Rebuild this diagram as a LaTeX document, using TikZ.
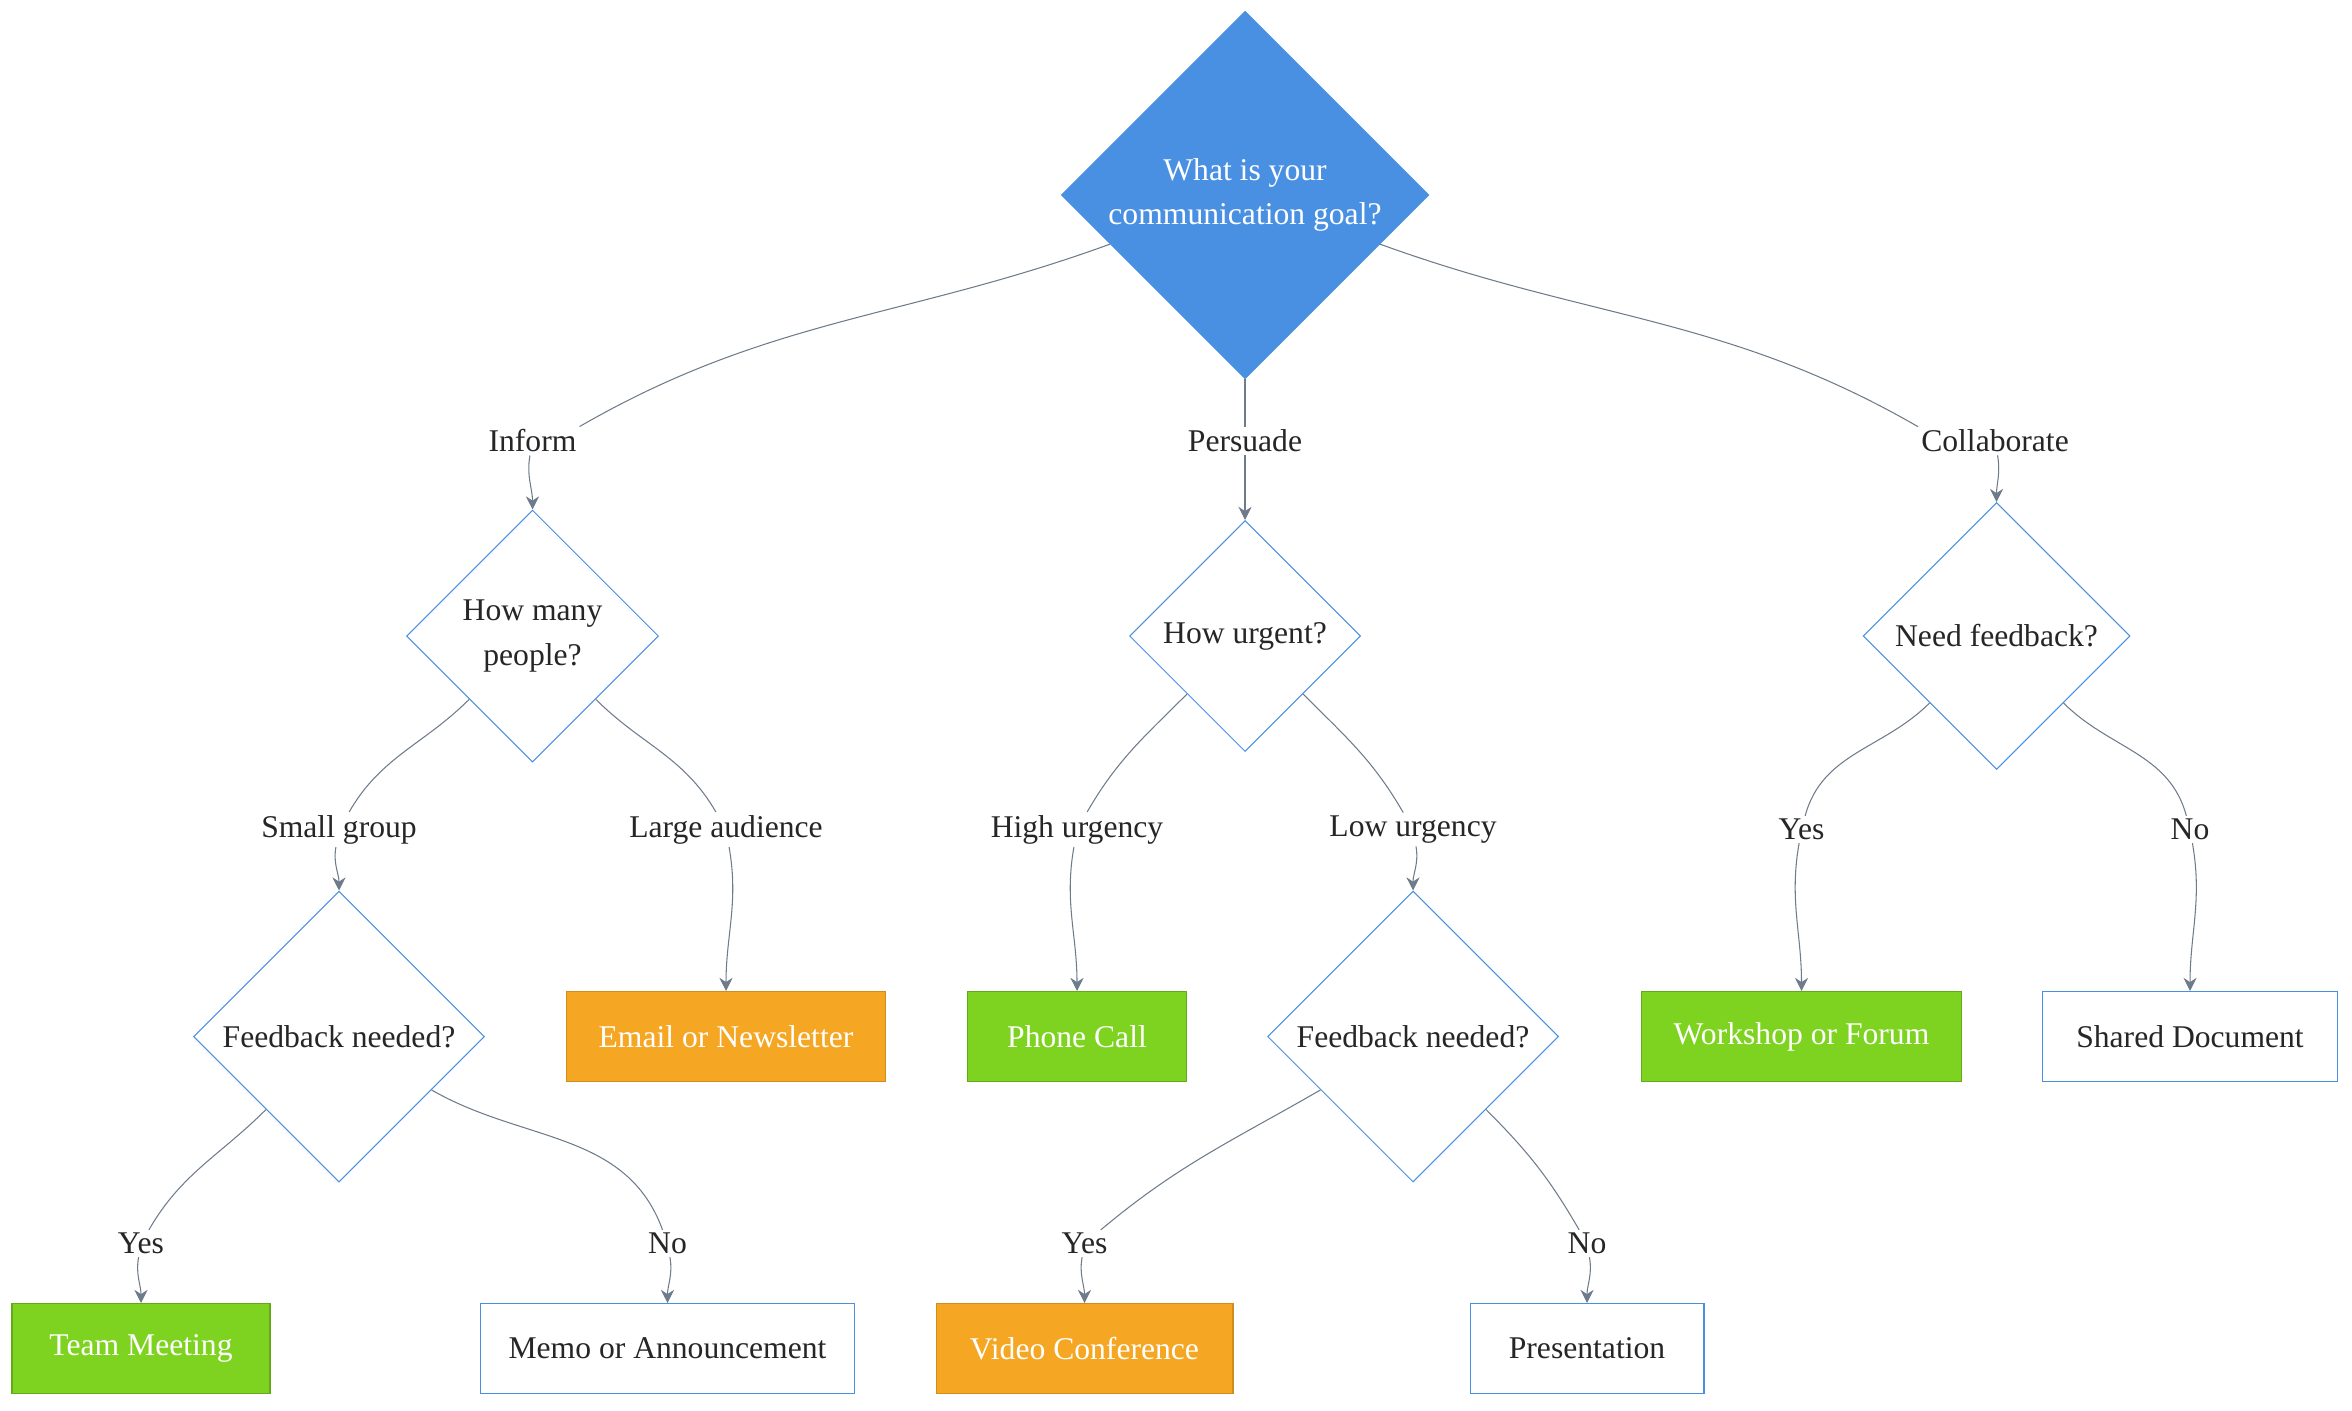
\documentclass[tikz,border=0pt]{standalone}
\usepackage{fontspec}
\setmainfont{Liberation Serif}
\usetikzlibrary{shapes.geometric,arrows.meta}
\definecolor{qblue}{HTML}{4A90E2}
\definecolor{qgreen}{HTML}{7ED321}
\definecolor{qorange}{HTML}{F5A623}
\definecolor{qedge}{HTML}{6E7B8B}
\begin{document}
\begin{tikzpicture}[x=0.02cm,y=-0.02cm,
      font=\fontsize{12}{17}\selectfont,
      question/.style ={diamond, draw=qblue, fill=white, aspect=1, inner sep=0pt, align=center, text=black!85},
      answer/.style ={draw=qblue, fill=white, minimum height=1.2cm, text=black!85},
      green/.style ={answer, draw=qgreen!80!black, fill=qgreen, text=white},
      orange/.style ={answer, draw=qorange!85!black, fill=qorange, text=white},
      branch/.style ={fill=white, inner sep=1pt, text=black!85},
      link/.style ={draw=qedge, thin},
      arrow/.style ={link, -{Stealth[length=5pt,width=5pt]}}]

   \useasboundingbox (0,0) rectangle (1568,940);

   \node[question, fill=qblue, text=white, minimum size=4.9cm] (goal) at (830,130) {What is your\\communication goal?};

   \node[question, minimum size=3.36cm] (people) at (355,424) {How many\\people?};
   \node[question, minimum size=3.08cm] (urgent) at (830,424) {How urgent?};
   \node[question, minimum size=3.56cm] (need)   at (1331,424) {Need feedback?};
   \node[question, minimum size=3.88cm] (fbA)    at (226,691) {Feedback needed?};
   \node[question, minimum size=3.88cm] (fbB)    at (942,691) {Feedback needed?};

   \node[orange, minimum width=4.26cm] (email)    at (484,691)  {Email or Newsletter};
   \node[green,  minimum width=2.92cm] (phone)    at (718,691)  {Phone Call};
   \node[green,  minimum width=4.26cm] (workshop) at (1201,691) {Workshop or Forum};
   \node[answer, minimum width=3.94cm] (shared)   at (1460,691) {Shared Document};
   \node[green,  minimum width=3.44cm] (team)     at (94,899)   {Team Meeting};
   \node[answer, minimum width=4.98cm] (memo)     at (445,899)  {Memo or Announcement};
   \node[orange, minimum width=3.96cm] (video)    at (723,899)  {Video Conference};
   \node[answer, minimum width=3.12cm] (present)  at (1058,899) {Presentation};

   % branch labels
   \node[branch] (inform)  at (355,294)  {Inform};
   \node[branch] (persuade) at (830,294) {Persuade};
   \node[branch] (collab)  at (1330,294) {Collaborate};
   \node[branch] (small)   at (226,553)  {Small group};
   \node[branch] (large)   at (484,553)  {Large audience};
   \node[branch] (high)    at (718,553)  {High urgency};
   \node[branch] (low)     at (942,553)  {Low urgency};
   \node[branch] (yesC)    at (1201,553) {Yes};
   \node[branch] (noC)     at (1460,553) {No};
   \node[branch] (yesA)    at (94,829)   {Yes};
   \node[branch] (noA)     at (445,829)  {No};
   \node[branch] (yesB)    at (723,829)  {Yes};
   \node[branch] (noB)     at (1058,829) {No};

   \draw[link] (goal) to[out=-160,in=30] (inform.north east);
   \draw[link] (goal) -- (persuade);
   \draw[link] (goal) to[out=-20,in=150] (collab.north west);
   \draw[arrow] (inform) to[out=-100,in=90] (people);
   \draw[arrow] (persuade) -- (urgent);
   \draw[arrow] (collab) to[out=-80,in=90] (need);

   \draw[link] (people) to[out=-135,in=60] (small);
   \draw[link] (people) to[out=-45,in=120] (large);
   \draw[link] (urgent) to[out=-135,in=60] (high);
   \draw[link] (urgent) to[out=-45,in=120] (low);
   \draw[link] (need) to[out=-135,in=75] (yesC);
   \draw[link] (need) to[out=-45,in=105] (noC);
   \draw[arrow] (small) to[out=-100,in=90] (fbA);
   \draw[arrow] (large) to[out=-80,in=90] (email);
   \draw[arrow] (high) to[out=-100,in=90] (phone);
   \draw[arrow] (low) to[out=-80,in=90] (fbB);
   \draw[arrow] (yesC) to[out=-100,in=90] (workshop);
   \draw[arrow] (noC) to[out=-80,in=90] (shared);

   \draw[link] (fbA) to[out=-135,in=60] (yesA);
   \draw[link] (fbA) to[out=-30,in=110] (noA);
   \draw[link] (fbB) to[out=-150,in=40] (yesB);
   \draw[link] (fbB) to[out=-45,in=120] (noB);
   \draw[arrow] (yesA) to[out=-100,in=90] (team);
   \draw[arrow] (noA) to[out=-80,in=90] (memo);
   \draw[arrow] (yesB) to[out=-100,in=90] (video);
   \draw[arrow] (noB) to[out=-80,in=90] (present);

\end{tikzpicture}
\end{document}
